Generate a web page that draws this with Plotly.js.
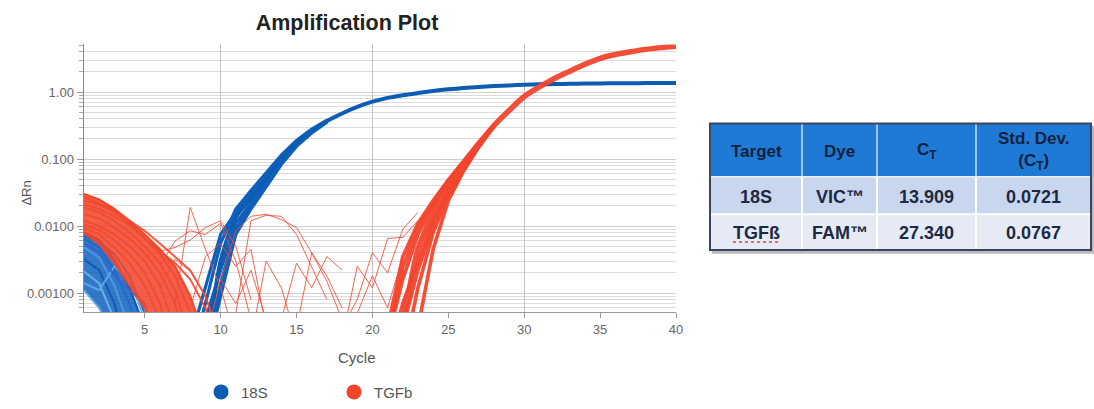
<!DOCTYPE html>
<html><head><meta charset="utf-8">
<script src="https://cdn.plot.ly/plotly-3.0.1.min.js"></script>
<style>html,body{margin:0;padding:0;background:#fff}#chart{width:1094px;height:409px}</style>
</head><body><div id="chart"></div><script>
// ---------- data ----------
const seriesNames = ["18S", "TGFb"];
const seriesColors = ["#0b5cb3", "#f2452d"];

// 18S (blue) main amplification curve
const blueMainCycles = [8,9,10,11,12,13,14,15,16,17,18,19,20,21,22,23,24,25,26,27,28,29,30,31,32,33,34,35,36,37,38,39,40];
const blueMainDRn = [0.0001,0.0002,0.003,0.0135,0.026,0.051,0.1,0.175,0.265,0.37,0.48,0.6,0.72,0.82,0.9,0.97,1.04,1.1,1.15,1.19,1.23,1.26,1.29,1.31,1.32,1.33,1.34,1.35,1.355,1.36,1.365,1.37,1.37];

// 18S replicate spread in the exponential phase
const blueRepCycles = [8,9,10,11,12,13,14,15,16,17];
const blueRepA = [0.0001,0.0007,0.0055,0.018,0.034,0.062,0.115,0.19,0.28,0.38];
const blueRepB = [0.0001,0.0001,0.0014,0.009,0.02,0.042,0.088,0.16,0.25,0.36];
const blueRepC = [0.0002,0.0012,0.0075,0.016,0.031,0.058,0.108,0.183,0.272,0.375];
const blueRepD = [0.0001,0.0004,0.0022,0.011,0.022,0.046,0.093,0.168,0.258,0.365];
const blueRepE = [0.0001,0.0001,0.0009,0.0075,0.018,0.039,0.083,0.155,0.245,0.355];

// 18S baseline noise (early cycles)
const blueBaseCycles = [1,2,3,4,5,6];
const blueBase1 = [0.0082,0.0062,0.0032,0.0012,0.0003,0.0001];
const blueBase2 = [0.0065,0.0048,0.0022,0.0007,0.0001,0.0001];
const blueBase3 = [0.0048,0.0034,0.0013,0.0003,0.0001,0.0001];
const blueBase4 = [0.0032,0.0022,0.0007,0.0001,0.0001,0.0001];
const blueBase5 = [0.0021,0.0014,0.0004,0.0001,0.0001,0.0001];
const blueBase6 = [0.0072,0.0058,0.0038,0.0018,0.0005,0.0001];
const blueBase7 = [0.0014,0.0011,0.0025,0.0016,0.0004,0.0001];
const blueBase8 = [0.0055,0.0041,0.0018,0.0011,0.0007,0.0001];
const blueBase9 = [0.0011,0.0006,0.0002,0.0001,0.0001,0.0001];

// TGFb (red) main amplification curve
const redMainCycles = [20,21,22,23,24,25,26,27,28,29,30,31,32,33,34,35,36,37,38,39,40];
const redMainDRn = [0.0001,0.0001,0.0004,0.0045,0.015,0.038,0.08,0.165,0.315,0.53,0.86,1.2,1.6,2.05,2.6,3.2,3.65,4.0,4.35,4.62,4.85];

// TGFb replicate spread
const redRepCycles = [20,21,22,23,24,25,26,27,28];
const redRepA = [0.0001,0.0003,0.0035,0.011,0.024,0.049,0.093,0.179,0.32];
const redRepB = [0.0001,0.0002,0.0016,0.0075,0.02,0.044,0.087,0.172,0.32];
const redRepC = [0.0001,0.0001,0.0007,0.003,0.012,0.034,0.075,0.16,0.315];
const redRepD = [0.0001,0.0001,0.0001,0.0012,0.008,0.028,0.07,0.155,0.31];
const redRepE = [0.0001,0.0001,0.0001,0.0003,0.0045,0.024,0.066,0.15,0.305];
const redRepF = [0.0001,0.0002,0.0024,0.0095,0.022,0.047,0.09,0.176,0.32];
const redRepG = [0.0001,0.0001,0.0003,0.0022,0.01,0.031,0.072,0.158,0.312];

// TGFb baseline (early cycles)
const redBaseCycles = [1,2,3,4,5,6,7,8,9,10];
const redBase1 = [0.030,0.025,0.018,0.012,0.0075,0.0045,0.0025,0.0009,0.0002,0.0001];
const redBase2 = [0.024,0.021,0.016,0.011,0.0065,0.0038,0.0018,0.0005,0.0001,0.0001];
const redBase3 = [0.019,0.016,0.012,0.008,0.005,0.0028,0.0011,0.0002,0.0001,0.0001];
const redBase4 = [0.015,0.013,0.0095,0.0065,0.004,0.002,0.0007,0.0001,0.0001,0.0001];
const redBase5 = [0.012,0.010,0.0075,0.005,0.003,0.0013,0.0003,0.0001,0.0001,0.0001];
const redBase6 = [0.0105,0.0088,0.0062,0.0038,0.002,0.0007,0.0001,0.0001,0.0001,0.0001];
const redBase7 = [0.0095,0.0075,0.0048,0.0028,0.0013,0.0004,0.0001,0.0001,0.0001,0.0001];
const redBase8 = [0.0078,0.0054,0.0028,0.0013,0.0006,0.0002,0.0001,0.0001,0.0001,0.0001];
const redBase9 = [0.021,0.018,0.014,0.0105,0.0065,0.0042,0.0028,0.0016,0.0006,0.0001];
const redBase10 = [0.027,0.022,0.017,0.012,0.0085,0.0055,0.0035,0.0022,0.0009,0.0002];

// TGFb noise lines between baseline and amplification
const redNoise = [
  {c:[5,6,7,8,9,10,11,12], v:[0.0035,0.0042,0.0048,0.0062,0.0095,0.012,0.005,0.0008]},
  {c:[6,7,8,9,10,11,12], v:[0.0025,0.006,0.0085,0.0075,0.011,0.003,0.0004]},
  {c:[7,8,9,10,11], v:[0.0007,0.019,0.0045,0.0012,0.0002]},
  {c:[10,11,12,13,14,15,16,17,18], v:[0.0015,0.0085,0.014,0.015,0.0125,0.0095,0.004,0.0018,0.0006]},
  {c:[11,12,13,14,15,16,17], v:[0.0005,0.012,0.0145,0.014,0.0075,0.0025,0.0008]},
  {c:[8,9,10,11,12,13], v:[0.0006,0.0035,0.0055,0.0025,0.0045,0.0003]},
  {c:[14,15,16,17,18], v:[0.0004,0.0028,0.0012,0.0035,0.0022]},
  {c:[15,16,17,18], v:[0.0003,0.004,0.0015,0.0004]},
  {c:[12,13,14,15], v:[0.0002,0.003,0.0012,0.0002]},
  {c:[9,10,11,12,13], v:[0.0002,0.0016,0.0007,0.0022,0.0004]},
  {c:[6,7,8,9,10], v:[0.0012,0.0032,0.0021,0.0009,0.0002]},
  {c:[18,19,20,21,22,23], v:[0.0002,0.0025,0.0012,0.0065,0.0068,0.012]},
  {c:[18,19,20,21,22,23], v:[0.0003,0.0008,0.004,0.002,0.009,0.016]},
  {c:[19,20,21,22], v:[0.0005,0.0018,0.0006,0.0035]}
];

// table
const tableHeader = ["<b>Target</b>", "<b>Dye</b>", "<b>C<sub>T</sub></b>", "<b>Std. Dev.</b><br><b>(C<sub>T</sub>)</b>"];
const tableTargets = ["18S", "TGFß"];
const tableDyes = ["VIC™", "FAM™"];
const tableCT = ["13.909", "27.340"];
const tableStdDev = ["0.0721", "0.0767"];

// ---------- layout helpers ----------
const W = 1094, H = 409;
const px = v => v / W;
const py = v => 1 - v / H;
const FONT = "Liberation Sans, Arial, sans-serif";

const traces = [];
function addLine(x, y, color, width, opacity, fill, fillcolor, smooth) {
  const t = {type:"scatter", mode:"lines", x:x, y:y, showlegend:false, hoverinfo:"skip",
    line:{color:color, width:width, shape:smooth ? "spline" : "linear", smoothing:smooth ? 0.8 : undefined}, opacity:opacity};
  if (fill) { t.fill = fill; t.fillcolor = fillcolor; }
  traces.push(t);
}

// blue baseline mass (filled between lowest and highest baseline reads) + individual reads
addLine(blueBaseCycles, blueBase9, "#5aaae6", 2, 1);
addLine(blueBaseCycles, blueBase1, "#0b5cb3", 2.2, 1, "tonexty", "rgba(16,96,190,0.85)");
[blueBase2, blueBase3, blueBase4, blueBase5, blueBase6, blueBase7, blueBase8].forEach((b, i) => {
  const cols = ["#1a6cc6", "#4a9ae0", "#0b5cb3", "#6db3ea", "#1565c0", "#5aaae6", "#3b5fd0"];
  addLine(blueBaseCycles, b, cols[i], 2, 0.95);
});
[blueRepA, blueRepB, blueRepC, blueRepD, blueRepE].forEach(r => addLine(blueRepCycles, r, "#1060bb", 3.2, 1));
addLine(blueMainCycles, blueMainDRn, seriesColors[0], 4, 1, null, null, true);

// red baseline mass
addLine(redBaseCycles, redBase8, "#f2452d", 2, 0.9);
addLine(redBaseCycles, redBase1, "#f2452d", 2.2, 1, "tonexty", "rgba(242,72,48,0.88)");
[redBase2, redBase3, redBase4, redBase5, redBase6, redBase7, redBase9, redBase10].forEach(b =>
  addLine(redBaseCycles, b, "#f04a30", 2, 0.9));
redNoise.forEach(n => addLine(n.c, n.v, "#ee4a36", 1, 0.85));
[redRepA, redRepB, redRepC, redRepD, redRepE, redRepF, redRepG].forEach(r => addLine(redRepCycles, r, "#f2452d", 3.6, 0.95));
addLine(redMainCycles, redMainDRn, seriesColors[1], 5.5, 0.95, null, null, true);

// legend entries
seriesNames.forEach((n, i) => traces.push({type:"scatter", mode:"markers", x:[null], y:[null], name:n,
  marker:{color:seriesColors[i], size:15}, hoverinfo:"skip"}));
// helper trace for the grid axis
traces.push({type:"scatter", mode:"lines", x:[null], y:[null], xaxis:"x2", yaxis:"y", showlegend:false, hoverinfo:"skip"});

// ---------- table (shapes + annotations) ----------
const colEdges = [710, 802, 877, 976, 1091];
const rowEdges = [125, 179, 217, 253];
const rowFills = ["#c9d7ee", "#e5eaf4"];
const shapes = [];
const annotations = [];
shapes.push({type:"rect", xref:"paper", yref:"paper", x0:px(colEdges[0]+2), x1:px(colEdges[4]+3), y0:py(rowEdges[3]+4), y1:py(rowEdges[0]+2),
  fillcolor:"rgba(60,60,70,0.35)", line:{width:0}, layer:"above"});
shapes.push({type:"rect", xref:"paper", yref:"paper", x0:px(colEdges[0]), x1:px(colEdges[4]), y0:py(rowEdges[1]), y1:py(rowEdges[0]),
  fillcolor:"#1f7ad5", line:{width:0}, layer:"above"});
for (let r = 0; r < 2; r++) {
  shapes.push({type:"rect", xref:"paper", yref:"paper", x0:px(colEdges[0]), x1:px(colEdges[4]), y0:py(rowEdges[r+2]), y1:py(rowEdges[r+1]),
    fillcolor:rowFills[r], line:{width:0}, layer:"above"});
}
for (let c = 1; c < 4; c++) {
  shapes.push({type:"line", xref:"paper", yref:"paper", x0:px(colEdges[c]), x1:px(colEdges[c]), y0:py(rowEdges[1]), y1:py(rowEdges[0]),
    line:{color:"#9cc8f2", width:2}, layer:"above"});
  shapes.push({type:"line", xref:"paper", yref:"paper", x0:px(colEdges[c]), x1:px(colEdges[c]), y0:py(rowEdges[3]), y1:py(rowEdges[1]),
    line:{color:"#ffffff", width:2}, layer:"above"});
}
shapes.push({type:"line", xref:"paper", yref:"paper", x0:px(colEdges[0]), x1:px(colEdges[4]), y0:py(rowEdges[2]), y1:py(rowEdges[2]),
  line:{color:"#ffffff", width:2}, layer:"above"});
shapes.push({type:"line", xref:"paper", yref:"paper", x0:px(colEdges[0]), x1:px(colEdges[4]), y0:py(rowEdges[1]), y1:py(rowEdges[1]),
  line:{color:"#e8eef8", width:1.5}, layer:"above"});
shapes.push({type:"rect", xref:"paper", yref:"paper", x0:px(colEdges[0]), x1:px(colEdges[4]), y0:py(rowEdges[3]), y1:py(rowEdges[0]),
  fillcolor:"rgba(0,0,0,0)", line:{color:"#3a4560", width:2}, layer:"above"});

const colCenters = [0,1,2,3].map(c => (colEdges[c] + colEdges[c+1]) / 2);
tableHeader.forEach((t, c) => annotations.push({xref:"paper", yref:"paper", x:px(colCenters[c]), y:py((rowEdges[0]+rowEdges[1])/2 + 1),
  text:t, showarrow:false, xanchor:"center", yanchor:"middle", font:{family:FONT, size:17, color:"#10213f"}}));
const tableRows = [tableTargets, tableDyes, tableCT, tableStdDev];
for (let r = 0; r < 2; r++) {
  tableRows.forEach((col, c) => annotations.push({xref:"paper", yref:"paper", x:px(colCenters[c]), y:py((rowEdges[r+1]+rowEdges[r+2])/2 + 1),
    text:"<b>" + col[r] + "</b>", showarrow:false, xanchor:"center", yanchor:"middle", font:{family:FONT, size:18, color:"#1c2a45"}}));
}
shapes.push({type:"line", xref:"paper", yref:"paper", x0:px(733), x1:px(781), y0:py(245), y1:py(245),
  line:{color:"#e8402f", width:1.5, dash:"dot"}, layer:"above"});

annotations.push({xref:"paper", yref:"paper", x:px(27), y:py(196), text:"ΔRn", textangle:-90, showarrow:false,
  xanchor:"center", yanchor:"middle", font:{family:FONT, size:13, color:"#555"}});
annotations.push({xref:"paper", yref:"paper", x:px(357), y:py(362), text:"Cycle", showarrow:false,
  xanchor:"center", yanchor:"middle", font:{family:FONT, size:15, color:"#555"}});

const layout = {
  width:W, height:H,
  margin:{l:0, r:0, t:0, b:0},
  paper_bgcolor:"#ffffff", plot_bgcolor:"#ffffff",
  font:{family:FONT, color:"#555"},
  title:{text:"<b>Amplification Plot</b>", x:px(347), xanchor:"center", y:py(23), yanchor:"middle", xref:"paper", yref:"paper",
    font:{family:FONT, size:21.5, color:"#222"}},
  showlegend:true,
  legend:{orientation:"h", traceorder:"normal", x:px(201), xanchor:"left", y:py(397), yanchor:"middle", entrywidth:88, entrywidthmode:"pixels",
    font:{family:FONT, size:15, color:"#555"}, itemsizing:"trace", bgcolor:"rgba(0,0,0,0)"},
  xaxis:{domain:[px(84), px(676)], range:[1, 40], tickmode:"linear", tick0:5, dtick:5, showgrid:false, zeroline:false,
    showline:true, linecolor:"#999", linewidth:1, ticks:"outside", ticklen:5, tickcolor:"#999",
    tickfont:{family:FONT, size:13, color:"#666"}, automargin:false, fixedrange:true},
  xaxis2:{overlaying:"x", anchor:"y", range:[1, 40], tickmode:"linear", tick0:0, dtick:10, showgrid:true, gridcolor:"#c4c4c4",
    gridwidth:1, showticklabels:false, ticks:"", zeroline:false, showline:false, automargin:false},
  yaxis:{domain:[1 - 316/H, 1 - 45/H], type:"log", range:[-3.285, 0.712], tickmode:"linear", tick0:0, dtick:1, tickformat:".3r",
    showgrid:true, gridcolor:"#cfcfcf", zeroline:false, showline:true, linecolor:"#888", linewidth:1.5,
    ticks:"outside", ticklen:6, tickcolor:"#999",
    minor:{dtick:"D1", showgrid:true, gridcolor:"#dcdcdc", ticks:"outside", ticklen:4, tickcolor:"#aaa"},
    tickfont:{family:FONT, size:13, color:"#666"}, automargin:false, fixedrange:true},
  shapes:shapes,
  annotations:annotations
};

Plotly.newPlot("chart", traces, layout, {displayModeBar:false, staticPlot:true});
</script></body></html>
